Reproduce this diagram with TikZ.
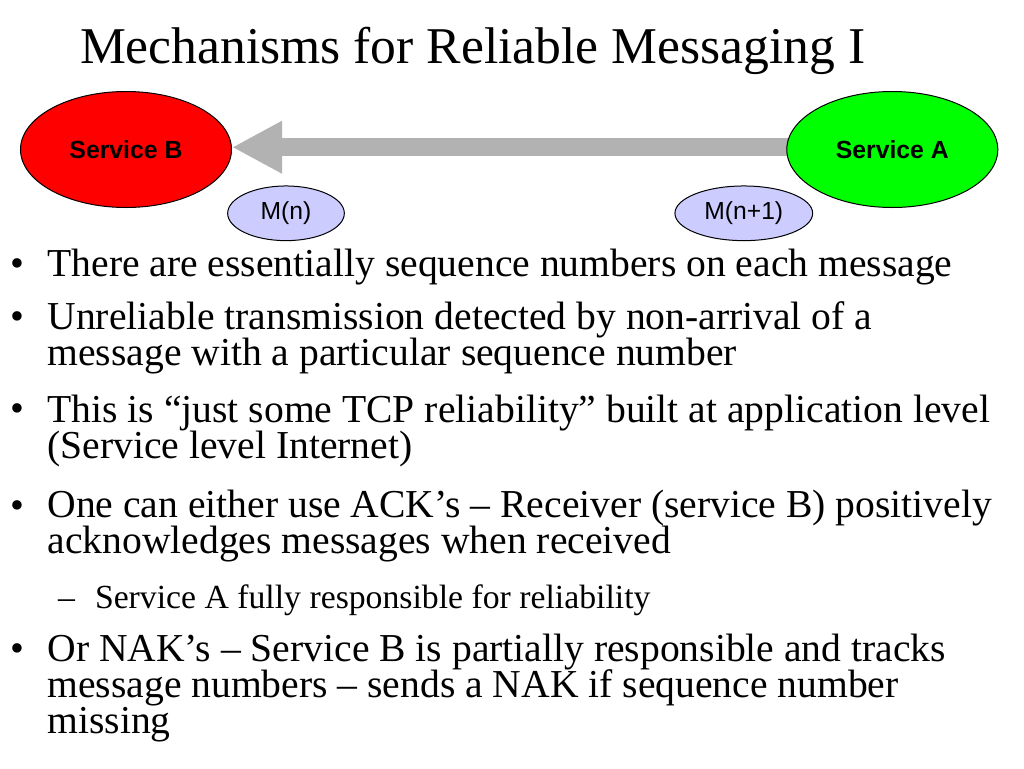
\documentclass[tikz,border=0pt]{standalone}
\usepackage{fontspec}
\setmainfont{Liberation Serif}
\setsansfont{Liberation Sans}
\usetikzlibrary{arrows.meta,shapes.geometric,backgrounds}
\definecolor{svcBColor}{HTML}{FF0000}
\definecolor{svcAColor}{HTML}{00FF00}
\definecolor{msgColor}{HTML}{CCCCFF}
\definecolor{flowColor}{HTML}{B2B2B2}
\newcommand{\titlefont}{\fontsize{38.7pt}{46pt}\selectfont}
\newcommand{\bodyfont}{\fontsize{29.7pt}{26.85pt}\selectfont\lineskiplimit=-50pt}
\newcommand{\subfont}{\fontsize{25.3pt}{26.85pt}\selectfont}
\tikzset{
	svc/.style={draw, ellipse, line width=0.75pt, minimum width=158.25pt, minimum height=87pt,
		inner sep=0, font=\sffamily\bfseries\fontsize{18.6pt}{22pt}\selectfont},
	msg/.style={draw, ellipse, fill=msgColor, line width=0.75pt, minimum height=41pt,
		inner sep=0, font=\sffamily\fontsize{18.5pt}{22pt}\selectfont},
	flow/.style={-{Triangle[length=37.5pt,width=36.75pt]}, line width=13.5pt, draw=flowColor},
	bul/.style={anchor=base west, inner sep=0, outer sep=0, align=left}
}

\begin{document}
\begin{tikzpicture}[x=0.75pt, y=-0.75pt]
	\useasboundingbox (0,0) rectangle (1024,768);
	\node[bul, font=\titlefont] (title) at (80,63) {Mechanisms for Reliable Messaging I};
	\node[svc, fill=svcBColor] (svcB) at (126,149.5) {Service B};
	\node[svc, fill=svcAColor] (svcA) at (892.3,149.5) {Service A};
	\node[msg, minimum width=87.5pt] (msgN) at (286,213.3) {M(n)};
	\node[msg, minimum width=103.3pt] (msgN1) at (743.8,213.3) {M(n+1)};
	\begin{scope}[on background layer]
		\fill[white] (0,0) rectangle (1024,768);
		\draw[flow] ([yshift=1.7pt]svcA.center) -- ([yshift=1.7pt]svcB.east);
	\end{scope}
	\foreach \y/\n in {276.7/1,329.3/2,421.7/3,518.3/4,661.7/5}
		\node[bul, font=\bodyfont] (dot\n) at (10,\y) {•};
	% multi-line nodes sit on their last baseline
	\node[bul, font=\bodyfont] (item1) at (47.5,276.7) {There are essentially sequence numbers on each message};
	\node[bul, font=\bodyfont] (item2) at (47.5,365) {Unreliable transmission detected by non-arrival of a\\ message with a particular sequence number};
	\node[bul, font=\bodyfont] (item3) at (47.5,458.3) {This is “just some TCP reliability” built at application level\\ (Service level Internet)};
	\node[bul, font=\bodyfont] (item4) at (47.5,553.3) {One can either use ACK’s – Receiver (service B) positively\\ acknowledges messages when received};
	\node[bul, font=\subfont] (dash4) at (58,608.3) {–};
	\node[bul, font=\subfont] (sub4) at (95,608.3) {Service A fully responsible for reliability};
	\node[bul, font=\bodyfont] (item5) at (47.5,733.3) {Or NAK’s – Service B is partially responsible and tracks\\ message numbers – sends a NAK if sequence number\\ missing};
\end{tikzpicture}
\end{document}
